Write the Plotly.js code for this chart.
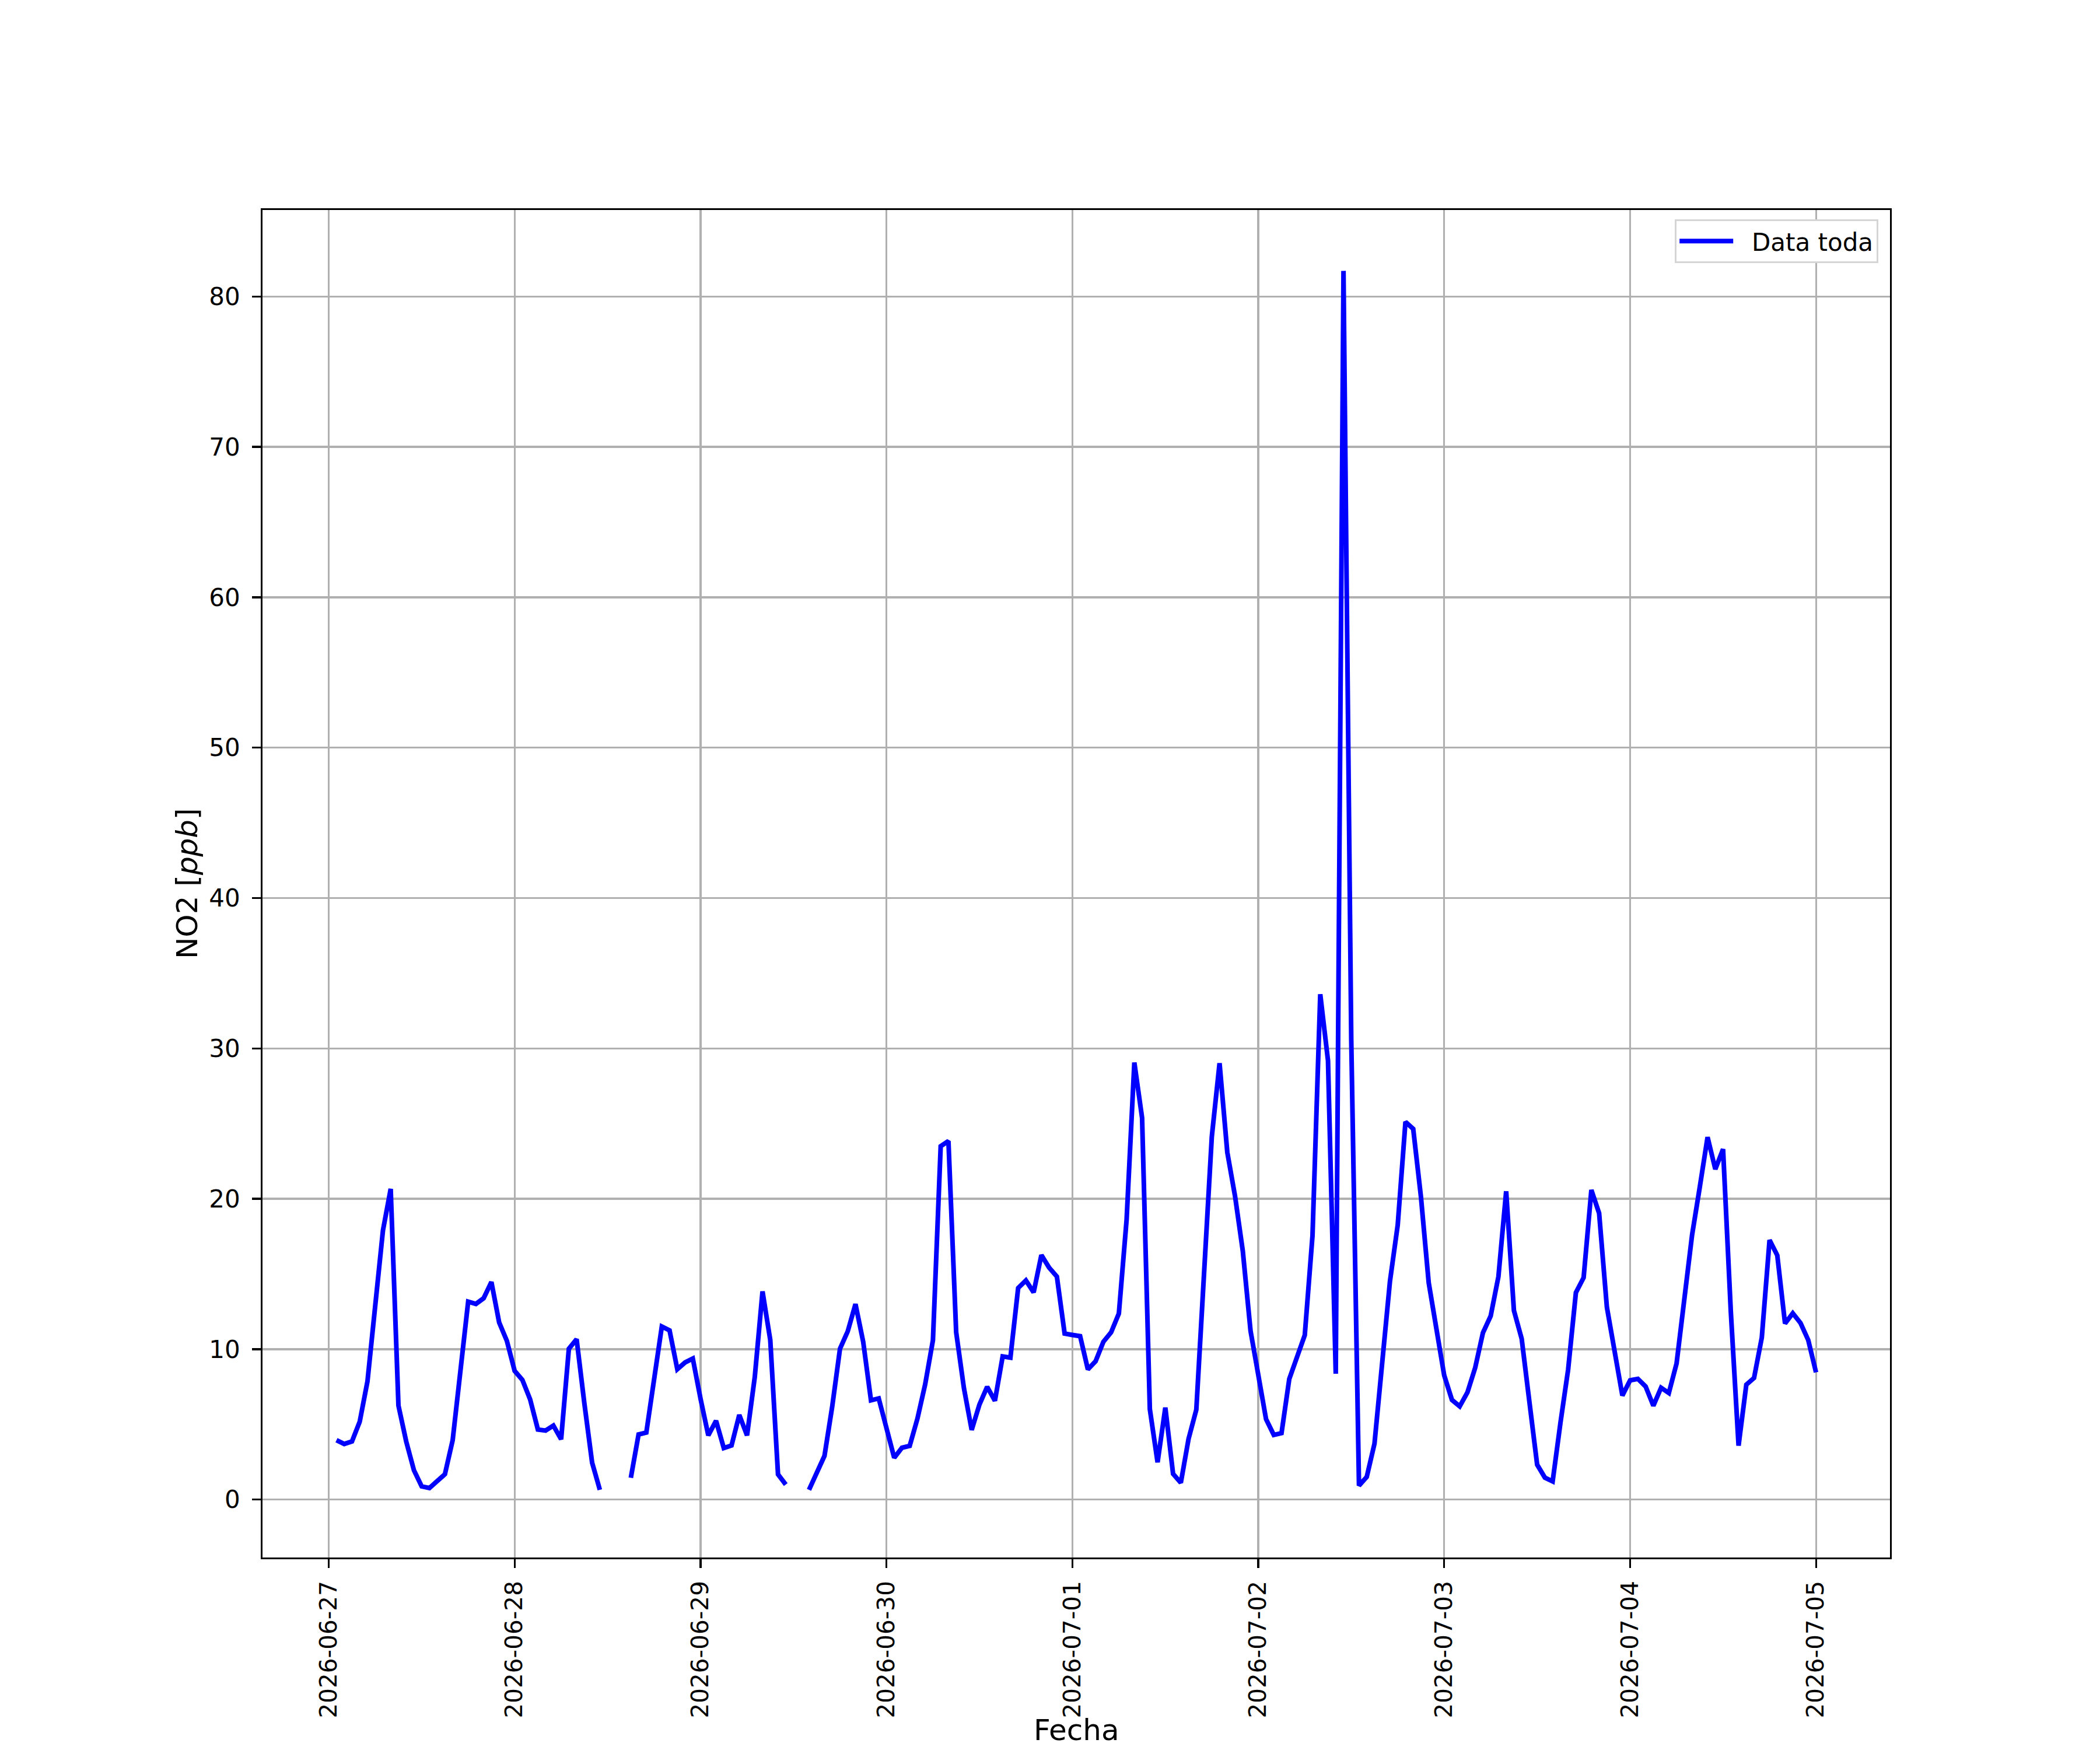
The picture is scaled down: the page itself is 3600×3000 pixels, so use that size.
<!DOCTYPE html>
<html>
<head>
<meta charset="utf-8">
<script src="https://cdn.plot.ly/plotly-3.0.1.min.js"></script>
<style>html,body{margin:0;padding:0;background:#fff;}</style>
</head>
<body>
<div id="chart" style="width:3600px;height:3000px;"></div>
<script>
// Hourly NO2 values [ppb]; each array runs from 01:00 of the day to 00:00 of the next day
const day0627 = [3.95, 3.7, 3.87, 5.18, 7.86, 12.9, 17.9, 20.66, 6.25, 3.87, 1.95, 0.88, 0.77, 1.23, 1.69, 3.95, 8.3, 13.16, 13.01, 13.39, 14.47, 11.78, 10.55, 8.56];
const day0628 = [7.96, 6.66, 4.66, 4.59, 4.92, 4.01, 10.03, 10.67, 6.4, 2.46, 0.65, null, null, null, 1.45, 4.33, 4.46, 8.0, 11.51, 11.25, 8.67, 9.12, 9.38, 6.7];
const day0629 = [4.27, 5.24, 3.43, 3.6, 5.63, 4.27, 8.15, 13.84, 10.61, 1.68, 1.0, null, null, 0.65, 1.78, 2.91, 6.2, 10.03, 11.19, 13.0, 10.48, 6.6, 6.73, 4.6];
const day0630 = [2.78, 3.45, 3.57, 5.39, 7.67, 10.6, 23.5, 23.84, 11.12, 7.41, 4.63, 6.32, 7.5, 6.57, 9.52, 9.44, 14.07, 14.57, 13.78, 16.26, 15.42, 14.83, 11.04, 10.95];
const day0701 = [10.87, 8.66, 9.2, 10.49, 11.12, 12.37, 18.61, 29.06, 25.38, 6.02, 2.48, 6.12, 1.71, 1.12, 4.04, 5.98, 15.0, 24.13, 29.02, 23.09, 20.17, 16.53, 11.22, 8.25];
const day0702 = [5.35, 4.3, 4.42, 8.02, 9.42, 10.93, 17.56, 33.6, 29.19, 8.37, 81.7, 30.6, 0.93, 1.51, 3.72, 9.2, 14.53, 18.26, 25.12, 24.65, 20.12, 14.42, 11.16, 8.26];
const day0703 = [6.63, 6.2, 7.13, 8.77, 11.09, 12.21, 14.83, 20.5, 12.57, 10.7, 6.5, 2.32, 1.46, 1.21, 5.08, 8.65, 13.76, 14.76, 20.59, 19.04, 12.8, 9.89, 6.92, 7.93];
const day0704 = [8.03, 7.52, 6.24, 7.44, 7.09, 9.06, 13.3, 17.6, 20.8, 24.1, 21.97, 23.3, 12.5, 3.59, 7.64, 8.09, 10.77, 17.26, 16.24, 11.71, 12.39, 11.74, 10.6, 8.46];

const days = [day0627, day0628, day0629, day0630, day0701, day0702, day0703, day0704];
const startDay = [2026, 5, 27]; // 2026-06-27 (month index 5 = June)

const firstTick = '2026-06-27';
const tickFormat = '%Y-%m-%d';
const yTicks = [0, 10, 20, 30, 40, 50, 60, 70, 80];

const seriesName = 'Data toda';
const xTitle = 'Fecha';
const yTitle = 'NO2 [<i>ppb</i>]';

// hourly time stamps
const xs = [], ys = [];
days.forEach((vals, d) => {
  vals.forEach((v, i) => {
    const t = new Date(Date.UTC(startDay[0], startDay[1], startDay[2] + d, i + 1));
    xs.push(t.toISOString().slice(0, 16).replace('T', ' '));
    ys.push(v);
  });
});

const trace = {
  x: xs, y: ys, type: 'scatter', mode: 'lines', name: '\u00a0\u00a0' + seriesName,
  line: {color: '#0000ff', width: 8},
  connectgaps: false
};

const axisCommon = {
  showgrid: true, gridcolor: '#b0b0b0', gridwidth: 3.3,
  ticks: 'outside', ticklen: 14.6, tickwidth: 3.3, tickcolor: '#000',
  showline: true, mirror: true, linecolor: '#000', linewidth: 3.3,
  zeroline: false,
  tickfont: {family: 'DejaVu Sans', size: 42, color: '#000'}
};

const layout = {
  width: 3600, height: 3000,
  margin: {l: 450, r: 360, t: 360, b: 330, pad: 0},
  paper_bgcolor: '#fff', plot_bgcolor: '#fff',
  font: {family: 'DejaVu Sans', size: 42, color: '#000'},
  showlegend: true,
  xaxis: Object.assign({}, axisCommon, {
    type: 'date',
    range: ['2026-06-26 15:27', '2026-07-05 09:33'],
    tickmode: 'linear', tick0: firstTick, dtick: 86400000, tickformat: tickFormat,
    tickangle: -90, ticklabelstandoff: 6,
    tickfont: {family: 'DejaVu Sans', size: 40.5, color: '#000'}
  }),
  yaxis: Object.assign({}, axisCommon, {
    range: [-3.85, 85.75],
    tickmode: 'array', tickvals: yTicks, ticktext: yTicks.map(String),
    ticklabelstandoff: 12
  }),
  annotations: [
    {text: xTitle, xref: 'paper', yref: 'paper', x: 0.5, y: -0.1415,
     xanchor: 'center', yanchor: 'bottom', showarrow: false,
     font: {family: 'DejaVu Sans', size: 50, color: '#000'}},
    {text: yTitle, xref: 'paper', yref: 'paper', x: -0.0462, y: 0.5,
     xanchor: 'center', yanchor: 'middle', showarrow: false, textangle: -90,
     font: {family: 'DejaVu Sans', size: 50, color: '#000'}}
  ],
  legend: {
    x: 0.9928, y: 0.993, xanchor: 'right', yanchor: 'top',
    bgcolor: '#fff', bordercolor: '#d5d5d5', borderwidth: 3.3,
    font: {family: 'DejaVu Sans', size: 42, color: '#000'},
    itemwidth: 92
  }
};

Plotly.newPlot('chart', [trace], layout, {displayModeBar: false, staticPlot: true});
</script>
</body>
</html>
